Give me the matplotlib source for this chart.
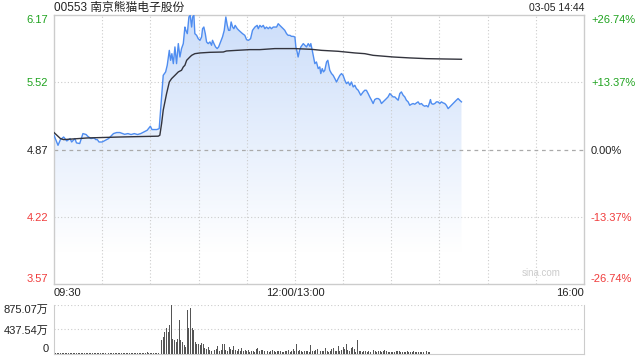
import matplotlib
matplotlib.use("Agg")
import matplotlib.pyplot as plt
import numpy as np
from matplotlib.colors import LinearSegmentedColormap

plt.rcParams['font.family'] = ['Liberation Sans', 'Noto Sans CJK SC', 'DejaVu Sans']

title = "00553 南京熊猫电子股份"
stamp = "03-05 14:44"
prev_close = 4.87
price_ticks = [3.57, 4.22, 4.87, 5.52, 6.17]
price_labels = ["3.57", "4.22", "4.87", "5.52", "6.17"]
pct_labels = ["-26.74%", "-13.37%", "0.00%", "+13.37%", "+26.74%"]
x_tick_pos = [0, 150, 330]
x_tick_labels = ["09:30", "12:00/13:00", "16:00"]
vol_ticks = [0, 437.54, 875.07]
vol_labels = ["0", "437.54万", "875.07万"]

# minutes since 09:30 (trading minutes), price
price_t = [0, 2.5, 4, 6, 8, 10, 11, 13, 14, 16, 17, 18, 20, 21, 23, 25, 26, 27, 28, 30, 32, 34, 37, 39, 41, 44, 46, 48, 50, 52, 54, 56, 58, 60, 61, 62, 64, 65.5,
           68.0, 69.5, 70.5, 71.8, 72.6, 73.4, 74.3, 75.3, 76.3, 77.4, 78.4, 79.4, 80.5, 81.5, 82.1, 83.0, 84.0, 84.8, 85.7, 86.3, 87.1, 87.7, 88.8, 89.8, 90.9,
           91.9, 92.5, 93.3, 94.2, 95.0, 96.0, 97.1, 98.1, 98.7, 99.6, 100.6, 101.6, 102.5, 103.7, 104.9, 106.0, 107.0, 107.9, 108.7, 109.5, 110.3, 111.2,
           112.0, 112.8, 114.1, 115.1, 116.2, 117.4, 118.8, 119.9, 121.1, 122.4, 123.6, 125.1, 126.5,
           127.2, 128.2, 129.2, 130.3, 131.3, 132.3, 133.4, 134.4, 135.4, 136.5, 137.5, 138.6, 139.6, 140.6, 141.7, 142.7, 143.7, 144.8, 145.8, 146.9, 147.9,
           148.9, 150.0, 150.6, 151.4, 152.0, 152.9, 153.7, 155.2, 156.2, 157.2, 158.3, 159.3, 159.9, 160.8, 161.6, 162.4, 163.4, 164.5, 165.5, 166.1, 167.0,
           167.8, 168.6, 169.7, 170.5, 171.1, 171.7, 172.8, 173.8, 174.9, 175.9, 176.9, 178.0, 179.0, 180.0, 181.1, 182.1, 183.2, 184.2, 185.2, 186.3, 187.3,
           188.3, 189.4, 191.0, 192.5, 193.5,
           194.5, 195.6, 196.6, 197.7, 198.7, 199.7, 200.8, 201.8, 202.8, 203.9, 204.9, 206.0, 207.0, 208.0, 209.1, 210.1, 211.1, 212.2, 213.2, 214.3, 215.3,
           216.3, 217.4, 218.4, 219.4, 220.5, 221.5, 222.5, 223.6, 224.6, 225.7, 226.7, 227.7, 228.8, 229.8, 230.8, 231.9, 232.9, 234.0, 234.4, 235.0, 236.0,
           237.1, 238.1, 239.1, 240.2, 241.2, 242.3, 243.3, 244.3, 245.4, 246.4, 247.4, 248.5, 249.5, 250.5, 251.6, 252.6, 253.7]
price_v = [5.008, 4.911, 4.966, 4.991, 4.953, 4.976, 4.943, 4.976, 4.934, 4.928, 4.976, 5.024, 5.015, 4.998, 4.976, 4.982, 4.966, 4.966, 4.943, 4.943,
           4.960, 4.976, 5.024, 5.034, 5.034, 5.017, 5.024, 5.015, 5.024, 5.015, 5.024, 5.040, 5.056, 5.095, 5.063, 5.063, 5.063, 5.072,
           5.586, 5.619, 5.683, 5.827, 5.731, 5.795, 5.699, 5.860, 5.699, 5.892, 5.763, 5.844, 5.892, 6.052, 6.020, 5.988, 6.149, 6.165, 6.052, 6.149, 6.165,
           5.988, 5.972, 5.940, 5.924, 5.956, 6.036, 6.052, 5.988, 5.908, 5.892, 5.908, 5.876, 5.924, 5.892, 5.860, 5.844, 5.860, 5.908, 5.956, 6.020, 6.149,
           6.068, 6.020, 6.020, 6.101, 6.052, 6.036, 6.068, 6.036, 6.020, 6.004, 5.988, 5.972, 5.930, 5.924, 5.940, 6.020, 6.052, 6.068,
           6.036, 6.068, 6.052, 6.068, 6.036, 6.052, 6.036, 6.052, 6.036, 6.052, 6.052, 6.052, 6.084, 6.068, 6.052, 6.036, 6.020, 5.988, 5.972, 5.972, 5.962,
           5.962, 5.956, 5.860, 5.811, 5.763, 5.827, 5.860, 5.892, 5.876, 5.860, 5.892, 5.866, 5.892, 5.827, 5.763, 5.699, 5.715, 5.651, 5.667, 5.603, 5.651,
           5.619, 5.635, 5.715, 5.731, 5.683, 5.635, 5.603, 5.586, 5.554, 5.522, 5.554, 5.586, 5.603, 5.586, 5.538, 5.506, 5.522, 5.490, 5.522, 5.474, 5.490,
           5.458, 5.442, 5.394, 5.426, 5.442,
           5.442, 5.410, 5.378, 5.346, 5.314, 5.352, 5.362, 5.362, 5.352, 5.314, 5.330, 5.346, 5.362, 5.378, 5.410, 5.394, 5.378, 5.378, 5.362, 5.346, 5.410,
           5.426, 5.394, 5.378, 5.346, 5.330, 5.297, 5.307, 5.314, 5.307, 5.320, 5.330, 5.307, 5.314, 5.297, 5.288, 5.294, 5.281, 5.330, 5.352, 5.314, 5.307,
           5.314, 5.330, 5.330, 5.314, 5.330, 5.320, 5.314, 5.297, 5.265, 5.281, 5.297, 5.314, 5.330, 5.346, 5.362, 5.346, 5.330]

avg_t = [0, 4, 6, 21, 41, 64.9, 65.9, 67.0, 68.0, 70.1, 71.8, 73.2, 75.3, 77.4, 79.4, 80.5, 81.5, 82.6, 83.6, 84.6, 85.7, 87.7, 90.9, 97.1, 105.4,
         107.4, 113.7, 122.0, 128.2, 137.5, 150.0, 160.3, 166.6, 176.9, 187.3, 193.5, 198.7, 211.1, 221.5, 231.9, 242.3, 253.7]
avg_v = [5.034, 4.976, 4.966, 4.982, 4.991, 4.999, 5.008, 5.121, 5.249, 5.410, 5.522, 5.554, 5.586, 5.619, 5.635, 5.667, 5.683, 5.731, 5.747, 5.763,
         5.779, 5.795, 5.802, 5.808, 5.811, 5.821, 5.827, 5.834, 5.834, 5.844, 5.844, 5.837, 5.827, 5.818, 5.802, 5.795, 5.779, 5.763, 5.754, 5.747,
         5.744, 5.741]

# volume per minute (万股)
volume = [30, 15, 20, 10, 12, 18, 10, 15, 20, 12, 25, 15, 10, 20, 15, 10, 12, 18, 25, 15, 10, 20, 15, 12, 10, 18, 15, 20, 12, 10,
          15, 18, 10, 12, 20, 15, 10, 12, 15, 18, 10, 15, 12, 10, 20, 15, 12, 18, 10, 15, 12, 20, 15, 10, 12, 18, 25, 15, 30, 20,
          15, 25, 20, 15, 20, 25,
          130, 250, 310, 400, 465, 400, 520, 875, 270, 250, 220, 270, 600, 250, 220, 160, 125, 790, 465, 820, 465, 430, 210, 180,
          180, 160, 190, 170, 110, 90, 120, 80, 60, 100, 70, 90, 140, 60, 80, 170, 180, 70, 60, 120, 90, 70, 150, 80, 60, 90,
          60, 110, 50, 70, 60, 80, 40, 50, 60, 40, 90, 100, 60, 80, 70, 50, 90, 60, 40, 60, 70, 50, 40, 50, 60, 45, 40, 35,
          50, 60, 70, 40, 50, 90, 60, 180, 50, 70, 60, 40, 50, 45, 60, 40, 160, 60, 50, 70, 90, 40, 50, 60, 45, 100, 60, 40,
          50, 90, 110, 60, 50, 140, 60, 80, 120, 90, 180, 70, 60, 110, 120, 90, 40, 250, 60, 50, 40, 60, 45, 30, 50, 40, 35,
          80, 60, 40, 50, 45, 30, 60, 70, 50, 40, 30, 35, 40, 30, 50, 60, 45, 40, 35, 30, 40, 50, 35, 30, 40, 45, 30, 35, 40,
          30, 35, 40, 30, 45, 35, 30]

grid_c = "#cccccc"
green = "#1fa31f"
red = "#f03c3c"

fig = plt.figure(figsize=(6.4, 3.6), dpi=100)
ax = fig.add_axes([54/640, 1-284.3/360, 530/640, (284.3-14.8)/360])
axv = fig.add_axes([54/640, 1-354/360, 530/640, 49/360])

ax.set_xlim(0, 330)
ax.set_ylim(3.57, 6.17)

# gradient fill under price
cmap = LinearSegmentedColormap.from_list("g", [(0.0, (1, 1, 1)), (0.12, (1, 1, 1)), (1.0, (0.80, 0.87, 0.98))])
grad = np.linspace(1, 0, 256).reshape(-1, 1)
img = ax.imshow(grad, extent=[0, 330, 3.57, 6.17], aspect='auto', cmap=cmap, vmin=0, vmax=1, zorder=1)
poly = ax.fill_between(price_t, price_v, 3.57, color='none', lw=0, zorder=1)
img.set_clip_path(poly.get_paths()[0], transform=ax.transData)

ax.plot(price_t, price_v, color="#4f8df0", lw=1.0, zorder=3)
ax.plot(avg_t, avg_v, color="#33343d", lw=1.0, zorder=3)

for x in range(30, 330, 30):
    ax.axvline(x, color=grid_c, lw=0.8, ls=(0, (1, 2)), zorder=2)
for y in [4.22, 5.52]:
    ax.axhline(y, color=grid_c, lw=0.8, ls=(0, (1, 2)), zorder=2)
ax.axhline(prev_close, color="#aaaaaa", lw=0.9, ls=(0, (3, 3)), zorder=2)

for s in ax.spines.values():
    s.set_color(grid_c)
    s.set_linewidth(1)

ax.set_yticks(price_ticks)
ax.set_yticklabels(price_labels)
ax.tick_params(axis='y', length=0, labelsize=8, pad=4)
cols = [red, red, "#222222", green, green]
for lab, c in zip(ax.get_yticklabels(), cols):
    lab.set_color(c)
ax.get_yticklabels()[0].set_verticalalignment('bottom')
ax.get_yticklabels()[-1].set_verticalalignment('top')

ax.set_xticks(x_tick_pos)
ax.set_xticklabels(x_tick_labels)
ax.tick_params(axis='x', length=0, labelsize=8, pad=3, labelcolor="#222222")
xl = ax.get_xticklabels()
xl[0].set_horizontalalignment('left')
xl[-1].set_horizontalalignment('right')

axr = ax.twinx()
axr.set_ylim(3.57, 6.17)
axr.set_yticks(price_ticks)
axr.set_yticklabels(pct_labels)
axr.tick_params(axis='y', length=0, labelsize=8, pad=5)
for lab, c in zip(axr.get_yticklabels(), cols):
    lab.set_color(c)
axr.get_yticklabels()[0].set_verticalalignment('bottom')
axr.get_yticklabels()[-1].set_verticalalignment('top')
for s in axr.spines.values():
    s.set_visible(False)

fig.text(54/640, 1-7.5/360, title, ha='left', va='center', fontsize=8.5, color="#222222")
fig.text(584/640, 1-8/360, stamp, ha='right', va='center', fontsize=7.5, color="#222222")
ax.text(0.955, 0.025, "sina.com", transform=ax.transAxes, ha='right', va='bottom', fontsize=7, color="#cccccc")

# volume
minutes = np.arange(len(volume))
axv.bar(minutes, volume, width=0.6, color="#555555", zorder=3)
axv.set_xlim(0, 330)
axv.set_ylim(0, 875.07)
axv.axhline(437.54, color=grid_c, lw=0.8, ls=(0, (1, 2)))
axv.axhline(875.07, color=grid_c, lw=0.8, ls=(0, (1, 2)))
axv.spines['top'].set_visible(False)
for k in ['left', 'right', 'bottom']:
    axv.spines[k].set_color(grid_c)
axv.set_xticks([])
axv.set_yticks(vol_ticks)
axv.set_yticklabels(vol_labels)
axv.tick_params(axis='y', length=0, labelsize=8, pad=4, labelcolor="#222222")
vl = axv.get_yticklabels()
vl[0].set_verticalalignment('bottom')
vl[-1].set_verticalalignment('top')

fig.savefig("out.png", dpi=100)
